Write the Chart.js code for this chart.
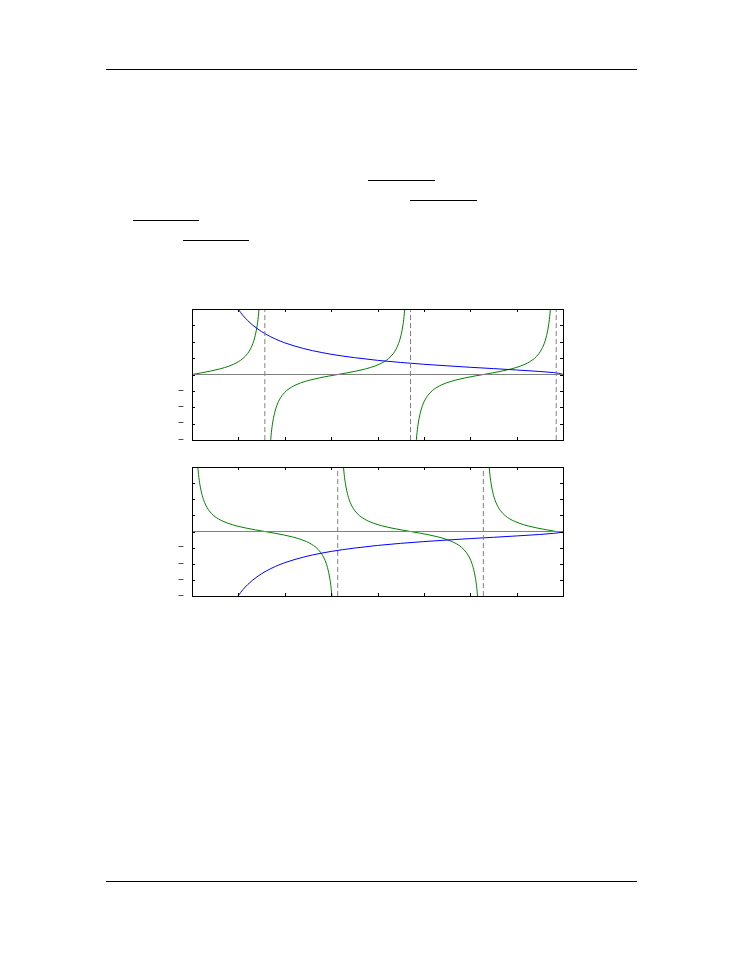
<!DOCTYPE html>
<html>
<head>
<meta charset="utf-8">
<script src="https://cdn.jsdelivr.net/npm/chart.js@4/dist/chart.umd.min.js"></script>
<style>
  html, body { margin: 0; padding: 0; background: #fff; }
  body { width: 744px; height: 961px; position: relative; overflow: hidden; }
  .rule { position: absolute; height: 0; border-top: 1px solid #000; }
  .panel { position: absolute; left: 142px; width: 431px; }
  .panel canvas { display: block; }
</style>
</head>
<body>
<div class="rule" style="left:106px;top:69px;width:531px"></div>
<div class="rule" style="left:368px;top:180px;width:67px"></div>
<div class="rule" style="left:410px;top:200px;width:67px"></div>
<div class="rule" style="left:133px;top:220px;width:66px"></div>
<div class="rule" style="left:183px;top:240px;width:66px"></div>
<div class="rule" style="left:106px;top:881px;width:531px"></div>

<div class="panel" style="top:299px;height:151px"><canvas id="topChart"></canvas></div>
<div class="panel" style="top:457px;height:149px"><canvas id="bottomChart"></canvas></div>

<script>
// axis ranges / ticks
const xMin = 0, xMax = 8, xStep = 1
const yMin = -8, yMax = 8, yStep = 2

// top panel: green branches
const topGreenX1 = [0, 0.2, 0.4, 0.6, 0.8, 0.9, 1.0, 1.1, 1.2, 1.25, 1.3, 1.35, 1.4, 1.43, 1.46]
const topGreenY1 = [0, 0.20, 0.42, 0.68, 1.03, 1.26, 1.56, 1.96, 2.57, 3.01, 3.60, 4.46, 5.80, 7.06, 8.99]
const topGreenX2 = [1.682, 1.712, 1.742, 1.792, 1.842, 1.892, 1.942, 2.042, 2.142, 2.242, 2.342, 2.542, 2.742, 2.942, 3.142,
  3.342, 3.542, 3.742, 3.942, 4.042, 4.142, 4.242, 4.342, 4.392, 4.442, 4.492, 4.542, 4.572, 4.602]
const topGreenY2 = [-8.99, -7.06, -5.80, -4.46, -3.60, -3.01, -2.57, -1.96, -1.56, -1.26, -1.03, -0.68, -0.42, -0.20, 0,
  0.20, 0.42, 0.68, 1.03, 1.26, 1.56, 1.96, 2.57, 3.01, 3.60, 4.46, 5.80, 7.06, 8.99]
const topGreenX3 = [4.823, 4.853, 4.883, 4.933, 4.983, 5.033, 5.083, 5.183, 5.283, 5.383, 5.483, 5.683, 5.883, 6.083, 6.283,
  6.483, 6.683, 6.883, 7.083, 7.183, 7.283, 7.383, 7.483, 7.533, 7.583, 7.633, 7.683, 7.713, 7.743]
const topGreenY3 = [-8.99, -7.06, -5.80, -4.46, -3.60, -3.01, -2.57, -1.96, -1.56, -1.26, -1.03, -0.68, -0.42, -0.20, 0,
  0.20, 0.42, 0.68, 1.03, 1.26, 1.56, 1.96, 2.57, 3.01, 3.60, 4.46, 5.80, 7.06, 8.99]

// top panel: blue curve
const topBlueX = [0.99, 1.0, 1.1, 1.2, 1.3, 1.4, 1.5, 1.6, 1.8, 2.0, 2.2, 2.4, 2.6, 2.8, 3.0, 3.5, 4.0, 4.5, 5.0, 5.5, 6.0, 6.5, 7.0, 7.5, 7.8, 7.9, 7.95, 8.0]
const topBlueY = [8.02, 7.94, 7.20, 6.59, 6.07, 5.63, 5.24, 4.90, 4.33, 3.87, 3.50, 3.18, 2.91, 2.68, 2.47, 2.06, 1.73, 1.47, 1.25, 1.06, 0.88, 0.72, 0.55, 0.37, 0.23, 0.16, 0.11, 0]

// bottom panel: green branches
const botGreenX1 = [0.111, 0.141, 0.171, 0.221, 0.271, 0.321, 0.371, 0.471, 0.571, 0.671, 0.771, 0.971, 1.171, 1.371, 1.571,
  1.771, 1.971, 2.171, 2.371, 2.471, 2.571, 2.671, 2.771, 2.821, 2.871, 2.921, 2.971, 3.001, 3.031]
const botGreenY1 = [8.99, 7.06, 5.80, 4.46, 3.60, 3.01, 2.57, 1.96, 1.56, 1.26, 1.03, 0.68, 0.42, 0.20, 0,
  -0.20, -0.42, -0.68, -1.03, -1.26, -1.56, -1.96, -2.57, -3.01, -3.60, -4.46, -5.80, -7.06, -8.99]
const botGreenX2 = [3.252, 3.282, 3.312, 3.362, 3.412, 3.462, 3.512, 3.612, 3.712, 3.812, 3.912, 4.112, 4.312, 4.512, 4.712,
  4.912, 5.112, 5.312, 5.512, 5.612, 5.712, 5.812, 5.912, 5.962, 6.012, 6.062, 6.112, 6.142, 6.172]
const botGreenY2 = [8.99, 7.06, 5.80, 4.46, 3.60, 3.01, 2.57, 1.96, 1.56, 1.26, 1.03, 0.68, 0.42, 0.20, 0,
  -0.20, -0.42, -0.68, -1.03, -1.26, -1.56, -1.96, -2.57, -3.01, -3.60, -4.46, -5.80, -7.06, -8.99]
const botGreenX3 = [6.394, 6.424, 6.454, 6.504, 6.554, 6.604, 6.654, 6.754, 6.854, 6.954, 7.054, 7.254, 7.454, 7.654, 7.854, 8.0]
const botGreenY3 = [8.99, 7.06, 5.80, 4.46, 3.60, 3.01, 2.57, 1.96, 1.56, 1.26, 1.03, 0.68, 0.42, 0.20, 0, -0.15]

// bottom panel: blue curve
const botBlueX = [0.99, 1.0, 1.1, 1.2, 1.3, 1.4, 1.5, 1.6, 1.8, 2.0, 2.2, 2.4, 2.6, 2.8, 3.0, 3.5, 4.0, 4.5, 5.0, 5.5, 6.0, 6.5, 7.0, 7.5, 7.8, 7.9, 7.95, 8.0]
const botBlueY = [-8.02, -7.94, -7.20, -6.59, -6.07, -5.63, -5.24, -4.90, -4.33, -3.87, -3.50, -3.18, -2.91, -2.68, -2.47, -2.06, -1.73, -1.47, -1.25, -1.06, -0.88, -0.72, -0.55, -0.37, -0.23, -0.16, -0.11, 0]

// vertical dashed asymptotes
const topAsymptotes = [1.571, 4.712, 7.854]
const botAsymptotes = [0, 3.142, 6.283]

const GREEN = '#008000'
const BLUE = '#0000ff'
const GREY = '#808080'

function zip(xs, ys) {
  return xs.map((x, i) => ({x: x, y: ys[i]}))
}

function curve(xs, ys, color) {
  return {
    data: zip(xs, ys), borderColor: color, borderWidth: 1,
    showLine: true, pointRadius: 0, cubicInterpolationMode: 'monotone'
  }
}

function straight(points, dashed) {
  return {
    data: points, borderColor: GREY, borderWidth: 1,
    borderDash: dashed ? [5, 3] : [], showLine: true, pointRadius: 0
  }
}

// black box with inward ticks on all four sides
const framePlugin = {
  id: 'frame',
  afterDatasetsDraw(chart) {
    const {ctx, chartArea: a, scales} = chart
    const len = 3
    ctx.save()
    ctx.strokeStyle = '#000'
    ctx.lineWidth = 1
    ctx.setLineDash([])
    ctx.beginPath()
    scales.x.ticks.forEach((t, i) => {
      const px = Math.round(scales.x.getPixelForTick(i)) + 0.5
      ctx.moveTo(px, a.bottom); ctx.lineTo(px, a.bottom - len)
      ctx.moveTo(px, a.top); ctx.lineTo(px, a.top + len)
    })
    scales.y.ticks.forEach((t, i) => {
      const py = Math.round(scales.y.getPixelForTick(i)) + 0.5
      ctx.moveTo(a.left, py); ctx.lineTo(a.left + len, py)
      ctx.moveTo(a.right, py); ctx.lineTo(a.right - len, py)
    })
    ctx.stroke()
    ctx.strokeRect(a.left + 0.5, a.top + 0.5, a.width, a.height)
    ctx.restore()
  }
}

function makeChart(id, datasets) {
  return new Chart(document.getElementById(id), {
    type: 'scatter',
    data: {datasets: datasets},
    plugins: [framePlugin],
    options: {
      responsive: true,
      maintainAspectRatio: false,
      animation: false,
      layout: {padding: {top: 10, right: 10, bottom: 10, left: 0}},
      plugins: {legend: {display: false}, tooltip: {enabled: false}},
      scales: {
        x: {
          type: 'linear', min: xMin, max: xMax,
          ticks: {display: false, stepSize: xStep},
          grid: {display: false}, border: {display: false},
          afterFit: s => { s.height = 0 }
        },
        y: {
          type: 'linear', min: yMin, max: yMax,
          ticks: {
            stepSize: yStep, padding: 8, color: '#000', autoSkip: false,
            font: {family: 'Liberation Sans', size: 10},
            callback: v => (v < 0 ? '\u2212' : '')
          },
          grid: {display: false, drawTicks: false}, border: {display: false},
          afterFit: s => { s.width = 50; s.paddingTop = 0; s.paddingBottom = 0 }
        }
      }
    }
  })
}

const zeroLine = [{x: xMin, y: 0}, {x: xMax, y: 0}]

makeChart('topChart', [
  straight(zeroLine, false),
  ...topAsymptotes.map(x => straight([{x: x, y: yMin}, {x: x, y: yMax}], true)),
  curve(topBlueX, topBlueY, BLUE),
  curve(topGreenX1, topGreenY1, GREEN),
  curve(topGreenX2, topGreenY2, GREEN),
  curve(topGreenX3, topGreenY3, GREEN)
])

makeChart('bottomChart', [
  straight(zeroLine, false),
  ...botAsymptotes.map(x => straight([{x: x, y: yMin}, {x: x, y: yMax}], true)),
  curve(botBlueX, botBlueY, BLUE),
  curve(botGreenX1, botGreenY1, GREEN),
  curve(botGreenX2, botGreenY2, GREEN),
  curve(botGreenX3, botGreenY3, GREEN)
])
</script>
</body>
</html>
